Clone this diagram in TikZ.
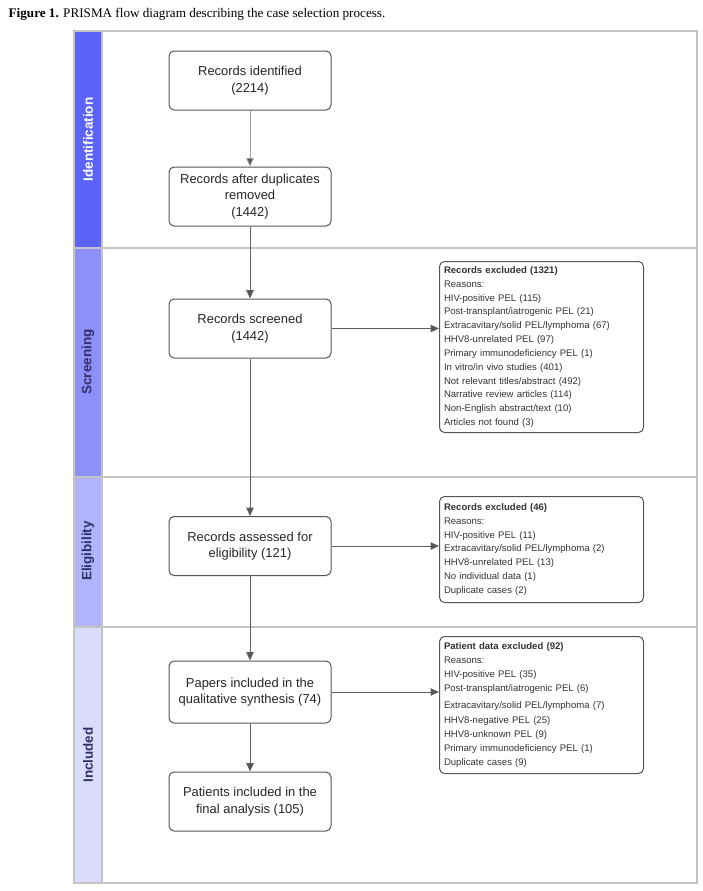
\documentclass[tikz,border=0pt]{standalone}
\usepackage{fontspec}
\setmainfont{Liberation Serif}
\newfontfamily\arial{Liberation Sans}
\usetikzlibrary{arrows.meta}
\definecolor{bandA}{HTML}{5B63FA}
\definecolor{bandB}{HTML}{8C90F8}
\definecolor{bandC}{HTML}{B1B4FA}
\definecolor{bandD}{HTML}{DBDCFB}
\definecolor{lanegray}{HTML}{C4C4C4}
\definecolor{boxline}{HTML}{555555}
\definecolor{arrline}{HTML}{5E5E5E}
\definecolor{lbltxt}{HTML}{2E3068}
\tikzset{
  flowbox/.style={draw=boxline, line width=1bp, rounded corners=5bp, fill=white,
    minimum width=162bp, minimum height=59bp, align=center, inner sep=2bp,
    font=\arial\fontsize{13}{16.5}\selectfont, text=black!85},
  exclbox/.style={draw=boxline, line width=1bp, rounded corners=5bp, fill=white,
    minimum width=204bp, text width=195bp, align=left, inner xsep=4.5bp, inner ysep=2bp,
    font=\arial\fontsize{9.6}{13.9}\selectfont, text=black!80, anchor=north west},
  arr/.style={draw=arrline, line width=1bp, -{Triangle[width=7.5bp,length=8.5bp,fill=boxline]}},
  arrlight/.style={draw=black!40, line width=0.8bp, -{Triangle[width=7.5bp,length=8.5bp,fill=boxline]}},
  laneline/.style={draw=lanegray, line width=1.4bp},
  bandtxt/.style={rotate=90, font=\arial\bfseries\fontsize{13.5}{16}\selectfont}
}
\begin{document}
\begin{tikzpicture}[x=1bp,y=-1bp]
\useasboundingbox (0,0) rectangle (703,891);
\fill[white] (0,0) rectangle (703,891);
% caption
\node[anchor=base west, inner sep=0, font=\fontsize{13.2}{15}\selectfont] (cap) at (8.5,17.5) {\textbf{Figure 1.} PRISMA flow diagram describing the case selection process.};
% bands
\fill[bandA] (74,31) rectangle (102,248);
\fill[bandB] (74,248) rectangle (102,477);
\fill[bandC] (74,477) rectangle (102,627);
\fill[bandD] (74,627) rectangle (102,883);
% frame and lanes
\draw[laneline] (74,31) rectangle (697,883);
\draw[laneline] (102,31) -- (102,883);
\draw[laneline] (74,248) -- (697,248);
\draw[laneline] (74,477) -- (697,477);
\draw[laneline] (74,627) -- (697,627);
% band labels
\node[bandtxt, text=white] (lid) at (88,139.5) {Identification};
\node[bandtxt, text=lbltxt] (lsc) at (88,362) {Screening};
\node[bandtxt, text=lbltxt] (lel) at (88,551) {Eligibility};
\node[bandtxt, text=lbltxt] (lin) at (88,755) {Included};
% main boxes
\node[flowbox] (b1) at (250,80.5) {Records identified\\(2214)};
\node[flowbox] (b2) at (250,196.5) {Records after duplicates\\removed\\(1442)};
\node[flowbox] (b3) at (250,328.5) {Records screened\\(1442)};
\node[flowbox] (b4) at (250,546) {Records assessed for\\eligibility (121)};
\node[flowbox, minimum height=62bp] (b5) at (250,692) {Papers included in the\\qualitative synthesis (74)};
\node[flowbox] (b6) at (250,801.5) {Patients included in the\\final analysis (105)};
% exclusion boxes
\node[exclbox, minimum height=171bp] (e1) at (439,261) {\textbf{Records excluded (1321)}\\
Reasons:\\
HIV-positive PEL (115)\\
Post-transplant/iatrogenic PEL (21)\\
Extracavitary/solid PEL/lymphoma (67)\\
HHV8-unrelated PEL (97)\\
Primary immunodeficiency PEL (1)\\
In vitro/in vivo studies (401)\\
Not relevant titles/abstract (492)\\
Narrative review articles (114)\\
Non-English abstract/text (10)\\
Articles not found (3)};
\node[exclbox, minimum height=106bp] (e2) at (439,496) {\textbf{Records excluded (46)}\\
Reasons:\\
HIV-positive PEL (11)\\
Extracavitary/solid PEL/lymphoma (2)\\
HHV8-unrelated PEL (13)\\
No individual data (1)\\
Duplicate cases (2)};
\node[exclbox, minimum height=137bp] (e3) at (439,636) {\textbf{Patient data excluded (92)}\\
Reasons:\\
HIV-positive PEL (35)\\
Post-transplant/iatrogenic PEL (6)\\[3.8bp]
Extracavitary/solid PEL/lymphoma (7)\\[1bp]
HHV8-negative PEL (25)\\
HHV8-unknown PEL (9)\\
Primary immunodeficiency PEL (1)\\
Duplicate cases (9)};
% connectors
\draw[arrlight] (b1) -- (b2);
\draw[arr] (b2) -- (b3);
\draw[arr] (b3) -- (b4);
\draw[arr] (b4) -- (b5);
\draw[arr] (b5) -- (b6);
\draw[arr] (b3.east) -- (b3.east -| e1.west);
\draw[arr] (b4.east) -- (b4.east -| e2.west);
\draw[arr] (b5.east) -- (b5.east -| e3.west);
\end{tikzpicture}
\end{document}
